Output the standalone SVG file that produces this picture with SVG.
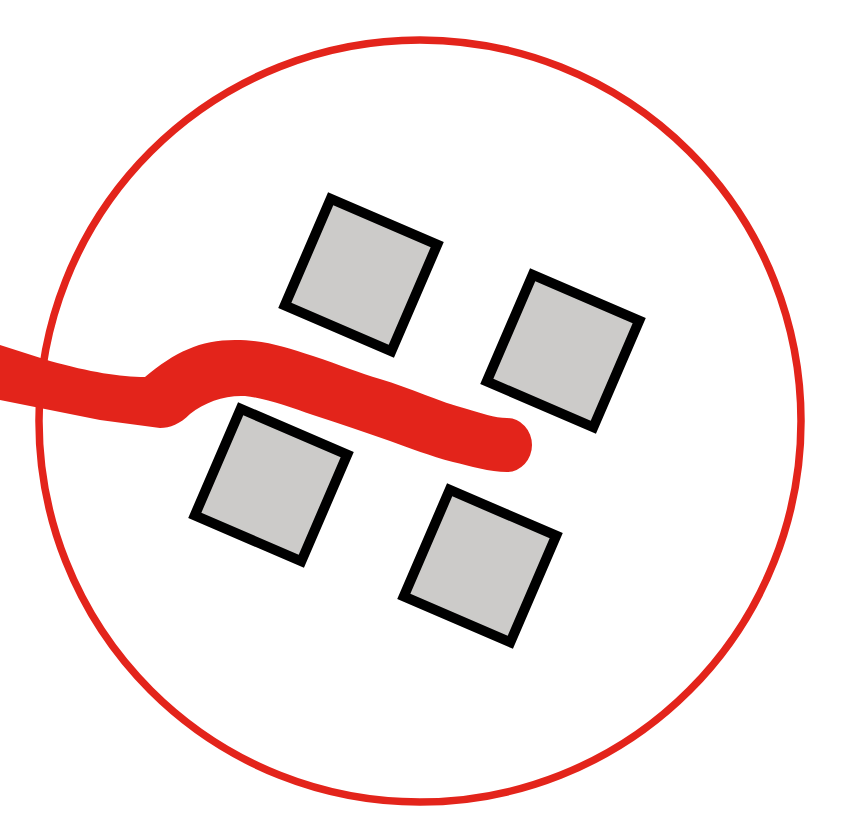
<svg xmlns="http://www.w3.org/2000/svg" width="852" height="833" viewBox="0 0 852 833">
<style>
.sq{fill:#cccbc9;stroke:#000;stroke-width:10;stroke-linejoin:miter}
</style>
<rect width="852" height="833" fill="#fff"/>
<circle id="ring" cx="420" cy="421" r="381" fill="none" stroke="#e3241b" stroke-width="7.5"/>
<g id="squares">
<g id="sq1" transform="translate(361,275) rotate(23.3)"><rect class="sq" x="-58" y="-58" width="116" height="116"/></g>
<g id="sq2" transform="translate(563,351) rotate(23.3)"><rect class="sq" x="-58" y="-58" width="116" height="116"/></g>
<g id="sq3" transform="translate(271,485) rotate(23.3)"><rect class="sq" x="-58" y="-58" width="116" height="116"/></g>
<g id="sq4" transform="translate(480,566) rotate(23.3)"><rect class="sq" x="-58" y="-58" width="116" height="116"/></g>
</g>
<g id="wire">
<path fill="#e3241b" d="M0,345 L50,361 C90,372 120,377 145,377 C175,352 200,340 235,340 C265,340 285,347 313,356 C340,365 360,373 380,379 C410,388 440,402 467,409 C480,413 495,418 507,418 A25,27 0 0 1 507,472 C490,472 470,466 453,462 C430,456 410,448 390,441 C365,432 340,424 313,415 C290,407 265,398 245,396 C225,395 205,402 190,414 C180,424 170,428 160,428 L100,420 L0,400 Z"/>
</g>
</svg>
